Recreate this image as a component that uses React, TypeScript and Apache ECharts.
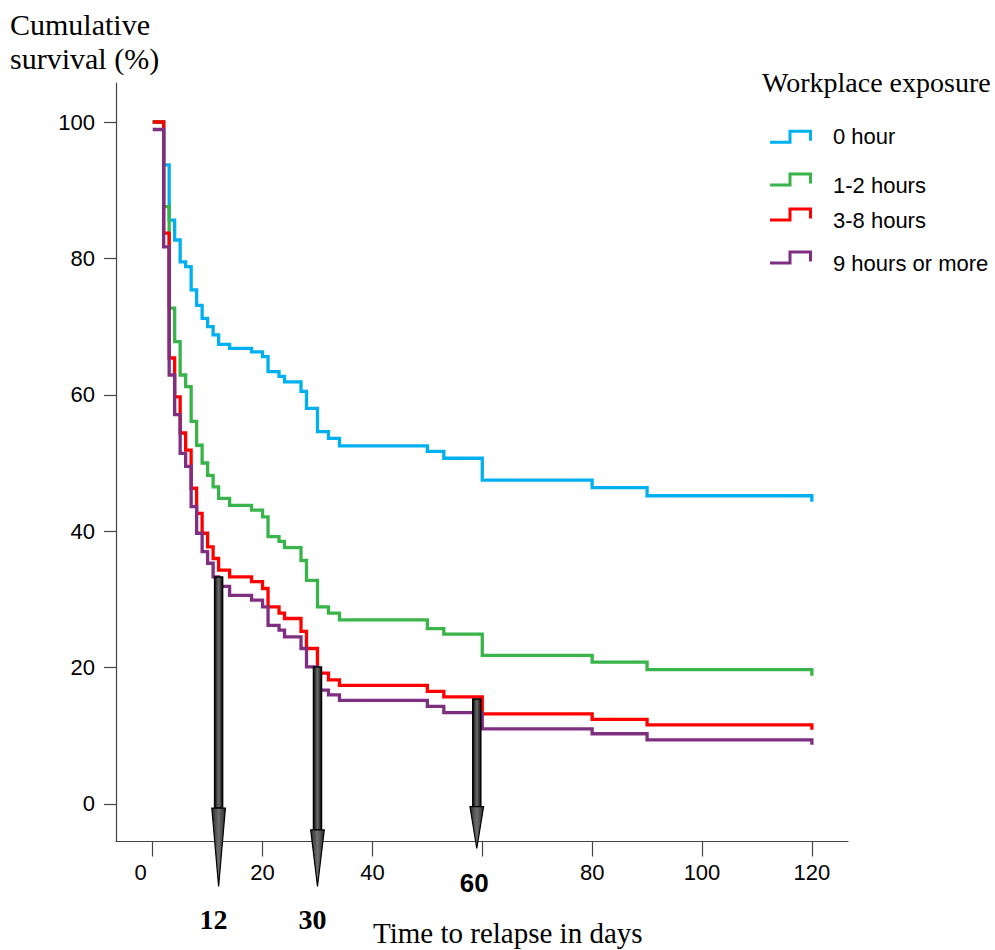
import React, { useEffect, useRef } from "react";
import * as echarts from "echarts";

// ---- data ----
const days = [0, 2, 3, 4, 5, 6, 7, 8, 9, 10, 11, 12, 14, 18, 20, 21, 23, 24, 27, 28, 30, 32, 34, 50, 53, 60, 80, 90, 120];
const hour0 = [100, 93.7, 85.6, 82.7, 79.5, 78.8, 75.4, 73.1, 71.2, 70.0, 68.8, 67.4, 66.8, 66.3, 65.6, 63.4, 62.7, 61.9, 60.5, 58.0, 54.6, 53.6, 52.5, 51.7, 50.7, 47.5, 46.4, 45.2, 44.3];
const hours1to2 = [100, 87.6, 72.7, 67.8, 62.9, 61.2, 56.1, 52.6, 50.0, 48.2, 46.5, 44.8, 43.8, 43.1, 42.1, 39.2, 38.5, 37.6, 35.7, 32.8, 28.9, 28.0, 27.0, 25.7, 24.9, 21.8, 20.8, 19.7, 18.8];
const hours3to8 = [100, 83.7, 65.4, 59.7, 54.4, 51.9, 46.3, 42.6, 39.7, 37.7, 36.0, 34.3, 33.3, 32.6, 31.6, 28.9, 28.0, 27.2, 25.3, 22.8, 19.2, 18.2, 17.4, 16.5, 15.7, 13.2, 12.4, 11.6, 10.9];
const hours9plus = [98.9, 81.7, 62.9, 57.1, 51.4, 49.5, 43.6, 39.7, 37.0, 35.3, 33.3, 31.9, 30.6, 29.9, 28.9, 26.2, 25.5, 24.5, 22.8, 20.1, 16.7, 16.0, 15.2, 14.3, 13.4, 11.0, 10.3, 9.4, 8.7];

const seriesNames = ["0 hour", "1-2 hours", "3-8 hours", "9 hours or more"];
const seriesValues = [hour0, hours1to2, hours3to8, hours9plus];
const seriesColors = ["#00B0F0", "#38B44A", "#FF0000", "#7E2F80"];

const xTicks = [0, 20, 40, 60, 80, 100, 120];
const yTicks = [0, 20, 40, 60, 80, 100];

// arrows: day, top (survival %), head base, tip, label
const arrowDays = [12, 30, 59];
const arrowTops = [33.3, 20.1, 15.4];
const arrowHeadBases = [-0.6, -3.8, -0.4];
const arrowTips = [-12.1, -12.1, -6.5];
const arrowLabels = ["12", "30", ""];

const SANS = "'Liberation Sans', Arial, sans-serif";
const SERIF = "'Liberation Serif', 'Times New Roman', serif";

// step-shaped legend icons (filled outline of a 3px step line)
const stepShape = "M0,11 L18.5,11 L18.5,0 L42,0 L42,11 L39,11 L39,3 L21.5,3 L21.5,14 L0,14 Z";
const iconPlain = "path://" + stepShape;
const iconRaised = "path://" + stepShape + " M0,25 L0,25 Z";

export default function App() {
  const ref = useRef<HTMLDivElement>(null);

  useEffect(() => {
    if (!ref.current) return;
    const chart = echarts.init(ref.current, null, { renderer: "svg" });

    const lineSeries = seriesNames.map((name, i) => ({
      name,
      type: "line",
      step: "end",
      symbol: "none",
      showSymbol: false,
      color: seriesColors[i],
      itemStyle: { color: seriesColors[i] },
      lineStyle: { color: seriesColors[i], width: 3.3, join: "miter", cap: "butt" },
      z: 2 + i,
      data: days.map((d, j) => [d, seriesValues[i][j]]),
    }));

    const arrowData = arrowDays.map((d, i) => [d, arrowTops[i], arrowHeadBases[i], arrowTips[i], i]);

    const arrowSeries = {
      type: "custom",
      name: "arrows",
      clip: false,
      z: 20,
      silent: true,
      data: arrowData,
      renderItem: (params: any, api: any) => {
        const x = api.value(0);
        const top = api.coord([x, api.value(1)]);
        const base = api.coord([x, api.value(2)]);
        const tip = api.coord([x, api.value(3)]);
        const idx = api.value(4);
        const cx = top[0];
        const sw = 4;
        const hw = 6.8;
        const shaftFill = new echarts.graphic.LinearGradient(0, 0, 1, 0, [
          { offset: 0, color: "#111" },
          { offset: 0.5, color: "#6a6a6a" },
          { offset: 1, color: "#111" },
        ]);
        const headFill = new echarts.graphic.LinearGradient(0, 0, 1, 0, [
          { offset: 0, color: "#2a2a2a" },
          { offset: 0.5, color: "#6e6e6e" },
          { offset: 1, color: "#2a2a2a" },
        ]);
        const children: any[] = [
          {
            type: "rect",
            shape: { x: cx - sw, y: top[1], width: sw * 2, height: base[1] - top[1] },
            style: { fill: shaftFill, stroke: "#000", lineWidth: 1.5 },
          },
          {
            type: "polygon",
            shape: {
              points: [
                [cx - hw, base[1]],
                [cx + hw, base[1]],
                [cx, tip[1]],
              ],
            },
            style: { fill: headFill, stroke: "#000", lineWidth: 1.2 },
          },
        ];
        const label = arrowLabels[idx];
        if (label) {
          children.push({
            type: "text",
            style: {
              text: label,
              x: cx - 5,
              y: tip[1] + 33,
              align: "center",
              verticalAlign: "middle",
              font: `bold 28px ${SERIF}`,
              fill: "#000",
            },
          });
        }
        return { type: "group", children };
      },
    };

    const legendTops = [125.7, 172.5, 207.5, 250.5];
    const legendIcons = [iconPlain, iconRaised, iconRaised, iconRaised];
    const legendHeights = [14, 25, 25, 25];
    const legends = seriesNames.map((name, i) => ({
      data: [{ name, icon: legendIcons[i] }],
      left: 770,
      top: legendTops[i],
      orient: "vertical",
      padding: 0,
      itemWidth: 42,
      itemHeight: legendHeights[i],
      symbolKeepAspect: true,
      selectedMode: false,
      textStyle: {
        color: "#000",
        fontSize: 22,
        fontFamily: SANS,
        lineHeight: 22,
        padding: [0, 0, 0, 16],
      },
    }));

    chart.setOption({
      animation: false,
      backgroundColor: "#fff",
      grid: { left: 116, top: 83, width: 732, height: 758.5, containLabel: false },
      xAxis: {
        type: "value",
        min: -6.68,
        max: 126.58,
        splitLine: { show: false },
        axisLine: { show: true, onZero: false, lineStyle: { color: "#444", width: 1.2 } },
        axisTick: { show: true, inside: false, length: 15, customValues: xTicks, lineStyle: { color: "#444", width: 1.2 } },
        axisLabel: {
          customValues: xTicks,
          margin: 20,
          color: "#000",
          fontSize: 22,
          fontFamily: SANS,
          formatter: (v: number) => (v === 60 ? "{b|60}" : v === 0 ? "{z|0}" : String(v)),
          rich: {
            b: { fontSize: 26, fontWeight: "bold", fontFamily: SANS, color: "#000", padding: [8, 16, 0, 0] },
            z: { fontSize: 22, fontFamily: SANS, color: "#000", padding: [0, 24, 0, 0] },
          },
        },
      },
      yAxis: {
        type: "value",
        min: -5.5,
        max: 105.72,
        splitLine: { show: false },
        axisLine: { show: true, onZero: false, lineStyle: { color: "#444", width: 1.2 } },
        axisTick: { show: true, inside: false, length: 12, customValues: yTicks, lineStyle: { color: "#444", width: 1.2 } },
        axisLabel: {
          customValues: yTicks,
          margin: 21,
          color: "#000",
          fontSize: 22,
          fontFamily: SANS,
        },
      },
      legend: legends,
      series: [...lineSeries, arrowSeries],
      graphic: [
        {
          type: "text",
          x: 10,
          y: 24,
          style: { text: "Cumulative", font: `30px ${SERIF}`, fill: "#000", align: "left", verticalAlign: "middle", textAlign: "left", textVerticalAlign: "middle" },
        },
        {
          type: "text",
          x: 10,
          y: 58,
          style: { text: "survival (%)", font: `30px ${SERIF}`, fill: "#000", align: "left", verticalAlign: "middle", textAlign: "left", textVerticalAlign: "middle" },
        },
        {
          type: "text",
          x: 762,
          y: 82,
          style: { text: "Workplace exposure", font: `28px ${SERIF}`, fill: "#000", align: "left", verticalAlign: "middle", textAlign: "left", textVerticalAlign: "middle" },
        },
        {
          type: "text",
          x: 373,
          y: 933,
          style: { text: "Time to relapse in days", font: `29px ${SERIF}`, fill: "#000", align: "left", verticalAlign: "middle", textAlign: "left", textVerticalAlign: "middle" },
        },
      ],
    });

    return () => chart.dispose();
  }, []);

  return (
    <div
      ref={ref}
      style={{ position: "absolute", left: 0, top: 0, width: 995, height: 950, background: "#fff" }}
    />
  );
}
